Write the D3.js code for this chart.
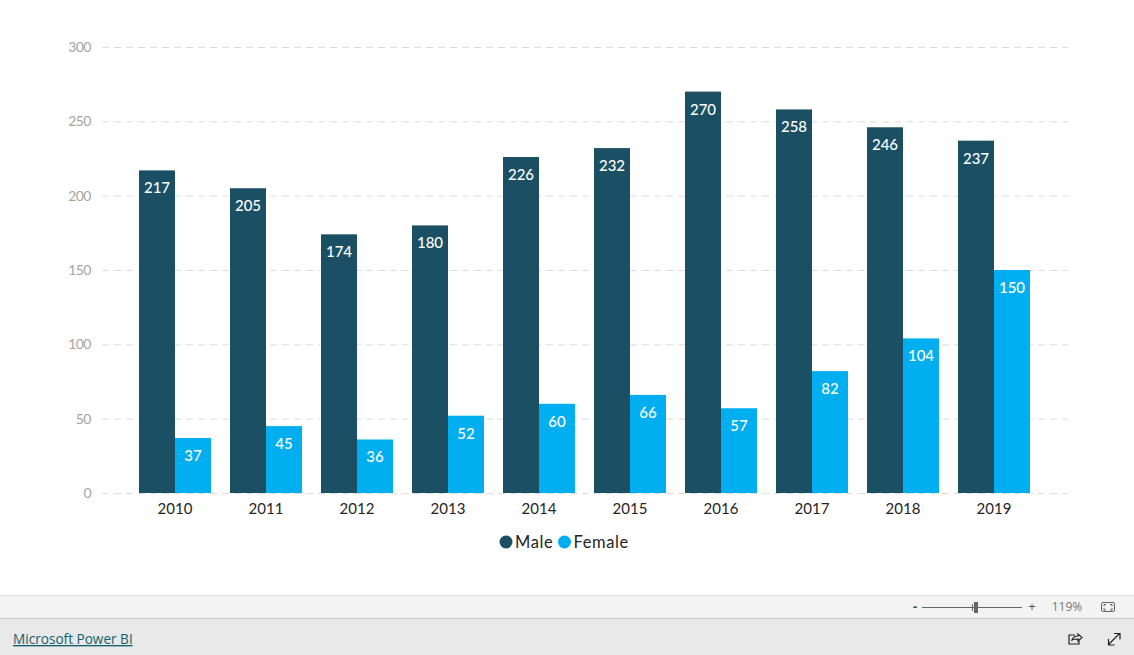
<!DOCTYPE html>
<html>
<head>
<meta charset="utf-8">
<script src="https://cdnjs.cloudflare.com/ajax/libs/d3/7.8.5/d3.min.js"></script>
<style>
    html, body { margin: 0; padding: 0; background: #fff; overflow: hidden; }
    text { font-family: Lato, "Noto Sans", sans-serif; }
    text.ui { font-family: "Open Sans", sans-serif; }
</style>
</head>
<body>
<svg id="chart" width="1134" height="655"></svg>
<script>
const years = ['2010', '2011', '2012', '2013', '2014', '2015', '2016', '2017', '2018', '2019'];
const male = [217, 205, 174, 180, 226, 232, 270, 258, 246, 237];
const female = [37, 45, 36, 52, 60, 66, 57, 82, 104, 150];
const seriesNames = ['Male', 'Female'];
const yTicks = [0, 50, 100, 150, 200, 250, 300];

const colors = {Male: '#1b4f63', Female: '#01aef0'},
    svg = d3.select('#chart');

const x = d3.scaleBand().domain(years).range([129.5, 1039.5]).paddingInner(0.209).paddingOuter(0.1045),
    inner = d3.scaleBand().domain(seriesNames).range([0, x.bandwidth()]),
    y = d3.scaleLinear().domain([0, 300]).range([493, 47]);

// Gridlines and value axis
const yAxis = d3.axisLeft(y).tickValues(yTicks).tickSize(-966).tickPadding(11);
const yG = svg.append('g').attr('transform', 'translate(102,0)').call(yAxis);
yG.select('.domain').remove();
yG.selectAll('.tick line').attr('stroke', '#dcdcda').attr('stroke-dasharray', '7,5').attr('stroke-width', 1);
yG.selectAll('.tick text').attr('fill', '#a8a49d').attr('font-family', null)
    .style('font-size', '14px').style('letter-spacing', '-0.5px');

// Category axis
const xAxis = d3.axisBottom(x).tickSize(0).tickPadding(10);
const xG = svg.append('g').attr('transform', 'translate(0,493)').call(xAxis);
xG.select('.domain').remove();
xG.selectAll('.tick text').attr('fill', '#252423').attr('font-family', null).style('font-size', '15px');

// Bars and labels
const values = {Male: male, Female: female};
seriesNames.forEach(name => {
    const g = svg.append('g');
    g.selectAll('rect')
        .data(years)
        .join('rect')
        .attr('x', d => x(d) + inner(name))
        .attr('y', (d, i) => y(values[name][i]))
        .attr('width', inner.bandwidth())
        .attr('height', (d, i) => y(0) - y(values[name][i]))
        .attr('fill', colors[name]);
    g.selectAll('text')
        .data(years)
        .join('text')
        .attr('x', d => x(d) + inner(name) + inner.bandwidth() / 2)
        .attr('y', (d, i) => y(values[name][i]) + 23)
        .attr('text-anchor', 'middle')
        .attr('fill', '#fff')
        .style('font-size', '15px')
        .style('font-weight', 500)
        .text((d, i) => values[name][i]);
});

// Legend
const legendX = {Male: 506, Female: 564.5};
seriesNames.forEach(name => {
    svg.append('circle').attr('cx', legendX[name]).attr('cy', 542).attr('r', 6.5).attr('fill', colors[name]);
    svg.append('text').attr('x', legendX[name] + 9).attr('y', 548).attr('fill', '#252423')
        .style('font-size', '16.5px').style('letter-spacing', '0.6px').text(name);
});

// Power BI footer
svg.append('rect').attr('x', 0).attr('y', 595).attr('width', 1134).attr('height', 23).attr('fill', '#f3f3f3');
svg.append('rect').attr('x', 0).attr('y', 618).attr('width', 1134).attr('height', 37).attr('fill', '#e9e9e9');
svg.append('line').attr('x1', 0).attr('x2', 1134).attr('y1', 595.5).attr('y2', 595.5).attr('stroke', '#e1e1e1');
svg.append('line').attr('x1', 0).attr('x2', 1134).attr('y1', 618.5).attr('y2', 618.5).attr('stroke', '#c8c8c8');
svg.append('text').attr('class', 'ui').attr('x', 13).attr('y', 644).attr('fill', '#15616d').style('font-size', '13.6px')
    .style('text-decoration', 'underline').text('Microsoft Power BI');

// Zoom slider
svg.append('text').attr('class', 'ui').attr('x', 915).attr('y', 611).attr('text-anchor', 'middle').attr('fill', '#444').style('font-size', '13px').style('font-weight', 700).text('-');
svg.append('line').attr('x1', 922).attr('x2', 1022).attr('y1', 607.5).attr('y2', 607.5).attr('stroke', '#666');
svg.append('line').attr('x1', 972.5).attr('x2', 972.5).attr('y1', 604).attr('y2', 611).attr('stroke', '#666');
svg.append('rect').attr('x', 974).attr('y', 602).attr('width', 4).attr('height', 11).attr('fill', '#666');
svg.append('text').attr('class', 'ui').attr('x', 1032).attr('y', 611).attr('text-anchor', 'middle').attr('fill', '#555').style('font-size', '13px').text('+');
svg.append('text').attr('class', 'ui').attr('x', 1067).attr('y', 611).attr('text-anchor', 'middle').attr('fill', '#777').style('font-size', '12px').text('119%');
svg.append('rect').attr('x', 1101.5).attr('y', 602.5).attr('width', 13).attr('height', 9).attr('rx', 1.5).attr('fill', 'none').attr('stroke', '#666');
svg.append('path').attr('d', 'M1104 606.5v-2h2 M1112 606.5v-2h-2 M1104 608v2h2 M1112 608v2h-2').attr('fill', 'none').attr('stroke', '#666');

// Share and fullscreen icons
svg.append('path').attr('d', 'M1075 635h-6v9h10v-4 M1072 640c1-3 3-4 6-4v-2l4 3.5-4 3.5v-2c-2 0-4 0-6 1z')
    .attr('fill', 'none').attr('stroke', '#222').attr('stroke-width', 1.2);
svg.append('path').attr('d', 'M1108.5 644.5l11-11 M1114 633.5h6v6 M1108.5 639v6h6')
    .attr('fill', 'none').attr('stroke', '#222').attr('stroke-width', 1.2);
</script>
</body>
</html>
